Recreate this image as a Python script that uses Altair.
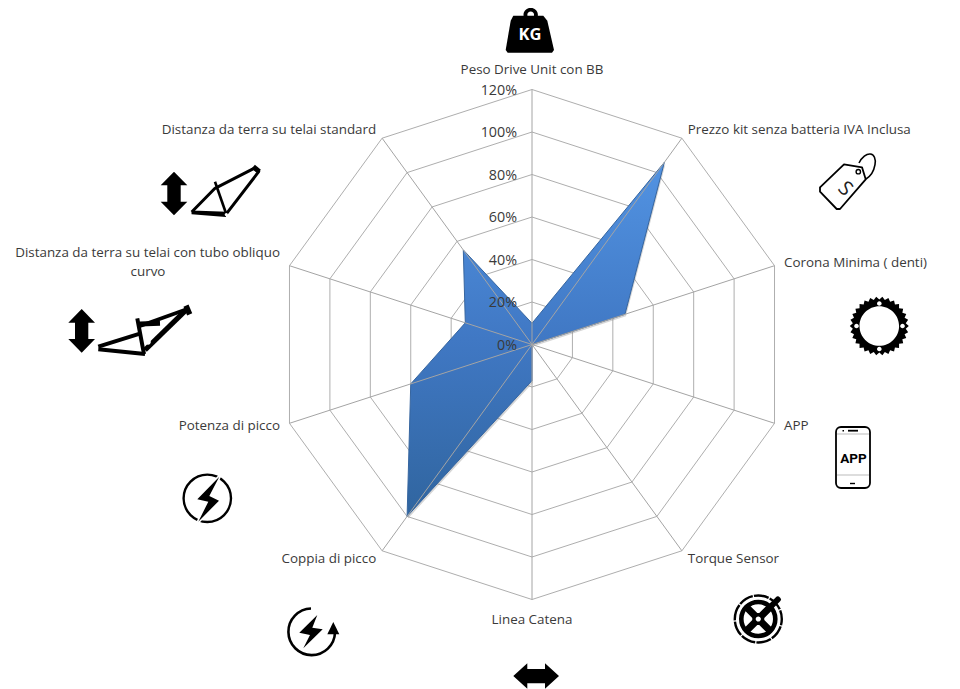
import math
import altair as alt
import pandas as pd

categories = ["Peso Drive Unit con BB", "Prezzo kit senza batteria IVA Inclusa", "Corona Minima ( denti)", "APP",
              "Torque Sensor", "Linea Catena", "Coppia di picco", "Potenza di picco",
              "Distanza da terra su telai con tubo obliquo", "Distanza da terra su telai standard"]
values = [0.10, 1.06, 0.46, 0.0, 0.0, 0.17, 1.00, 0.60, 0.33, 0.55]
ticks = [0, 0.2, 0.4, 0.6, 0.8, 1.0, 1.2]
tick_labels = ["0%", "20%", "40%", "60%", "80%", "100%", "120%"]

W, H = 944, 681
CX, CY = 524.0, 336.5
U = 212.5
N = len(categories)
FONT = "Open Sans"
TXT = "#3a3a3a"
xs = alt.Scale(domain=[-CX / U, (W - CX) / U], range=[0, W], nice=False, zero=False)
ys = alt.Scale(domain=[(H - CY) / -U, CY / U], range=[H, 0], nice=False, zero=False)


def pol(r, i):
    a = 2 * math.pi * i / N
    return r * math.sin(a), r * math.cos(a)


X = alt.X("x:Q", scale=xs, axis=None)
Y = alt.Y("y:Q", scale=ys, axis=None)

rings = pd.DataFrame([{"ring": t, "i": i, "x": pol(t, i)[0], "y": pol(t, i)[1]} for t in ticks[1:] for i in range(N)])
series = pd.DataFrame([{"i": i, "x": pol(v, i)[0], "y": pol(v, i)[1]} for i, v in enumerate(values)])
spokes = pd.DataFrame([{"x": 0.0, "y": 0.0, "x2": pol(1.2, i)[0], "y2": pol(1.2, i)[1]} for i in range(N)])
tick_df = pd.DataFrame({"x": [0.0] * len(ticks), "y": ticks, "t": tick_labels})

GRID = "#aeaeae"
ring_l = alt.Chart(rings).mark_line(stroke=GRID, strokeWidth=1, interpolate="linear-closed").encode(
    x=X, y=Y, detail="ring:N", order="i:Q")
grad = alt.Gradient(gradient="linear", x1=0, x2=0, y1=0, y2=1,
                    stops=[alt.GradientStop(offset=0, color="#5293e2"),
                           alt.GradientStop(offset=0.5, color="#4078c4"),
                           alt.GradientStop(offset=1, color="#30659f")])
shadow = alt.Chart(series).mark_line(fill="#777777", fillOpacity=0.3, strokeOpacity=0, xOffset=1, yOffset=2,
                                     interpolate="linear-closed").encode(x=X, y=Y, order="i:Q")
poly = alt.Chart(series).mark_line(fill=grad, stroke="#36659f", strokeWidth=1, interpolate="linear-closed").encode(
    x=X, y=Y, order="i:Q")
spoke_l = alt.Chart(spokes).mark_rule(color="#a4a4a4", strokeWidth=1).encode(
    x=X, y=Y, x2="x2:Q", y2="y2:Q")
tick_t = alt.Chart(tick_df).mark_text(align="right", baseline="middle", dx=-15, dy=1, font=FONT, fontSize=14.3,
                                      color=TXT).encode(x=X, y=Y, text="t:N")

# category labels, anchored just outside each axis end
LR = 1.2 + 10 / U
lab = pd.DataFrame([{"t": c, "i": i, "x": pol(LR, i)[0], "y": pol(LR, i)[1]} for i, c in enumerate(categories)])


def labels(idx, **kw):
    return alt.Chart(lab[lab.i.isin(idx)]).mark_text(font=FONT, fontSize=13.4, color=TXT, **kw).encode(x=X, y=Y, text="t:N")


lab_layers = [
    labels([1, 2, 3, 4], align="left", baseline="middle"),
    labels([6, 7, 9], align="right", baseline="middle"),
    labels([0], align="center", baseline="middle", dy=-10),
    labels([5], align="center", baseline="middle", dy=10),
    labels([8], align="right", baseline="middle", dy=-9.5),
    alt.Chart(lab[lab.i == 8].assign(t="curvo")).mark_text(font=FONT, fontSize=13.4, color=TXT, align="center",
                                                          baseline="middle", dx=-132, dy=9.5).encode(x=X, y=Y, text="t:N"),
]

# ---- decorative icons: outlines measured in page pixels ----
one = pd.DataFrame({"a": [0]})


def P(ox, oy, pts, close=True):
    s = "M" + "L".join(f"{ox + a / 3:.1f},{oy + b / 3:.1f}" for a, b in pts)
    return s + ("Z" if close else "")


def C(cx, cy, r, sweep=1):
    return f"M{cx - r:.2f},{cy:.2f}A{r:.2f},{r:.2f} 0 1 {sweep} {cx + r:.2f},{cy:.2f}A{r:.2f},{r:.2f} 0 1 {sweep} {cx - r:.2f},{cy:.2f}Z"


def fill(path, color="black"):
    return alt.Chart(one).mark_point(shape=path, size=4, filled=True, fill=color, opacity=1, strokeOpacity=0).encode(
        x=alt.value(-8), y=alt.value(-8))


def line(path, sw=2, color="black", **kw):
    return alt.Chart(one).mark_point(shape=path, size=4, filled=False, stroke=color, strokeWidth=sw, opacity=1,
                                     strokeJoin="round", **kw).encode(x=alt.value(-8), y=alt.value(-8))


def txt(s, px, py, size, color="black", font="Roboto", weight="bold", angle=0):
    return alt.Chart(pd.DataFrame({"t": [s]})).mark_text(font=font, fontSize=size, fontWeight=weight, color=color,
                                                         align="center", baseline="middle", angle=angle).encode(
        x=alt.value(px - 8), y=alt.value(py - 8), text="t:N")


icons = []
# weight
icons += [fill(C(530.7, 15, 7.2) + C(530.7, 15, 3.4, 0)),
          fill(P(460, 0, [(160, 47), (250, 47), (262, 62), (282, 150), (276, 158), (143, 158), (137, 150), (152, 62)])),
          txt("KG", 530, 35, 16.5, "white", FONT)]
# tag
icons += [line(P(800, 140, [(132, 73), (186, 82), (197, 118), (120, 207), (110, 207), (60, 155), (60, 142)]), 1.8),
          line("M859,163A8,14 25 1 1 866,179", 1.6),
          line(C(858.3, 171.7, 2.2), 1.4),
          txt("S", 845, 189, 20, "#222222", FONT, "normal", 45)]
# chainring
teeth = 30
ring_pts = []
for k in range(teeth * 2):
    r = 29.5 if k % 2 == 0 else 26.6
    a = math.pi * k / teeth
    ring_pts.append(f"{879.3 + r * math.cos(a):.2f},{326 + r * math.sin(a):.2f}")
ring_path = "M" + "L".join(ring_pts) + "Z" + C(879.3, 326, 19.8, 0)
icons += [fill(ring_path)]
for hx, hy in [(879.3, 303.5), (856.5, 326), (902.5, 326), (879.3, 349)]:
    icons.append(fill(C(hx, hy, 2.3), "white"))
# phone
icons += [line("M841,427H865A5,5 0 0 1 870,432V483A5,5 0 0 1 865,488H841A5,5 0 0 1 836,483V432A5,5 0 0 1 841,427Z", 1.8),
          line("M837,434H869", 0.8, "#aaaaaa"), line("M837,475H869", 0.8, "#aaaaaa"),
          line("M848,430.7H858", 1.8), line("M842.5,430.7H844", 1.4), line("M850,483.5H855", 1.4),
          txt("APP", 853.5, 458.5, 13.5, "black", "Roboto")]
# crank
cx, cy = 758.3, 619
icons += [line(C(cx, cy, 23.5), 2.4, strokeDash=[15, 1.2]),
          line(C(cx, cy, 17), 4.6),
          line(f"M{cx - 12},{cy - 12}L{cx + 12},{cy + 12}M{cx - 12},{cy + 12}L{cx + 12},{cy - 12}", 7),
          fill(C(cx, cy, 6)),
          fill(C(cx, cy, 2.6), "white"),
          line(f"M{cx + 4},{cy - 4}L{cx + 19.5},{cy - 19.5}", 6, strokeCap="round")]
# lightning in ring
bolt1 = P(170, 460, [(148, 50), (82, 118), (115, 125), (85, 185), (147, 122), (118, 108)])
icons += [line(C(207.3, 498.3, 23.7), 2.4),
          line(bolt1, 3.2, "white"),
          fill(bolt1)]
# lightning with rotating arrow
icons += [line("M311,608.5A23.3,23.3 0 1 0 335,632.5", 2.6),
          fill(P(170, 460, [(490, 486), (508, 523), (472, 523)])),
          fill(P(170, 460, [(442, 465), (388, 518), (420, 525), (400, 565), (458, 508), (427, 503)]))]
# horizontal double arrow
icons += [fill(P(490, 650, [(70, 78), (112, 40), (112, 57), (165, 57), (165, 40), (207, 78), (165, 116), (165, 100), (112, 100), (112, 116)]))]
# vertical double arrows
for o in (372, 95):
    top = 65 if o == 372 else 477
    icons.append(fill(P(50, 150, [(o, top), (o + 40, top + 41), (o + 20, top + 41), (o + 20, top + 90), (o + 40, top + 90),
                                  (o, top + 131), (o - 40, top + 90), (o - 20, top + 90), (o - 20, top + 41), (o - 40, top + 41)])))
# hardtail frame
icons += [line(P(50, 150, [(425, 186), (495, 115), (612, 55), (626, 65), (530, 190), (425, 186)], False), 3),
          line(P(50, 150, [(495, 95), (528, 190)], False), 2.6),
          line(P(50, 150, [(610, 50), (628, 65)], False), 5),
          line(P(50, 150, [(425, 188), (528, 196)], False), 3.2),
          fill(C(226.3, 214.5, 1.6), "white")]
# full suspension frame
icons += [line(P(50, 150, [(410, 478), (285, 600)], False), 5.2),
          line(P(50, 150, [(410, 478), (270, 528)], False), 3.8),
          line(P(50, 150, [(262, 505), (282, 612)], False), 4),
          line(P(50, 150, [(270, 522), (330, 520)], False), 5),
          line(P(50, 150, [(145, 590), (272, 550)], False), 4),
          line(P(50, 150, [(145, 598), (285, 612)], False), 4),
          line(P(50, 150, [(408, 467), (419, 493)], False), 5.5),
          fill(C(148, 342, 2.8), "white")]

chart = alt.layer(ring_l, shadow, poly, spoke_l, tick_t, *lab_layers, *icons).properties(
    width=W, height=H, padding=0, background="white",
    autosize=alt.AutoSizeParams(type="none")).configure_view(stroke=None)

chart.save("out.html", embed_options={"renderer": "svg", "actions": False})
